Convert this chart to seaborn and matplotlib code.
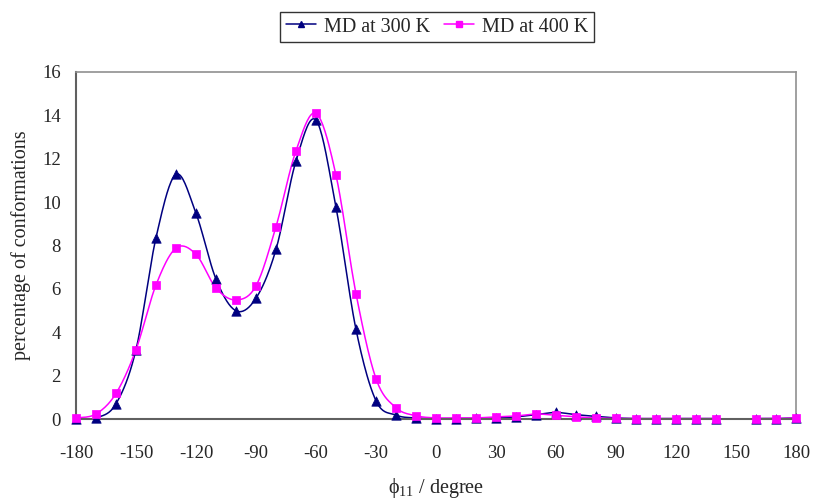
import numpy as np
import pandas as pd
import matplotlib
matplotlib.use("Agg")
import matplotlib.pyplot as plt
import seaborn as sns

# ---- data ----
angles = list(range(-180, 181, 10))
md_300 = [0.00, 0.05, 0.70, 3.20, 8.36, 11.28, 9.48, 6.45, 4.99, 5.57,
          7.82, 11.90, 13.78, 9.76, 4.13, 0.84, 0.18, 0.05, 0.02, 0.02,
          0.03, 0.05, 0.10, 0.20, 0.30, 0.20, 0.12, 0.05, 0.02, 0.02,
          0.02, 0.02, 0.02, np.nan, 0.02, 0.02, 0.05]
md_400 = [0.05, 0.23, 1.18, 3.20, 6.18, 7.88, 7.59, 6.04, 5.49, 6.14,
          8.87, 12.37, 14.09, 11.24, 5.78, 1.86, 0.52, 0.15, 0.05, 0.05,
          0.05, 0.10, 0.14, 0.23, 0.17, 0.10, 0.05, 0.03, 0.02, 0.02,
          0.02, 0.02, 0.02, np.nan, 0.02, 0.02, 0.05]
series_names = ["MD at 300 K", "MD at 400 K"]
series_colors = ["#000080", "#FF00FF"]
series_markers = ["^", "s"]
xticks = list(range(-180, 181, 30))
yticks = list(range(0, 17, 2))


def smooth(x, y, n=20):
    """Catmull-Rom style smoothing per contiguous segment (NaN breaks)."""
    x = np.asarray(x, float)
    y = np.asarray(y, float)
    xs, ys = [], []
    ok = ~np.isnan(y)
    idx = np.where(ok)[0]
    segs = np.split(idx, np.where(np.diff(idx) != 1)[0] + 1)
    for seg in segs:
        px, py = x[seg], y[seg]
        m = len(px)
        if m < 2:
            continue
        for i in range(m - 1):
            p0 = (px[i - 1], py[i - 1]) if i > 0 else (px[i], py[i])
            p1 = (px[i], py[i])
            p2 = (px[i + 1], py[i + 1])
            p3 = (px[i + 2], py[i + 2]) if i + 2 < m else (px[i + 1], py[i + 1])
            t = np.linspace(0, 1, n, endpoint=False)
            for a in range(2):
                c0, c1, c2, c3 = p0[a], p1[a], p2[a], p3[a]
                v = 0.5 * ((2 * c1) + (-c0 + c2) * t
                           + (2 * c0 - 5 * c1 + 4 * c2 - c3) * t ** 2
                           + (-c0 + 3 * c1 - 3 * c2 + c3) * t ** 3)
                (xs if a == 0 else ys).extend(v)
        xs.append(px[-1]); ys.append(py[-1])
        xs.append(np.nan); ys.append(np.nan)
    return np.array(xs), np.array(ys)


sns.set_style("white")
plt.rcParams["font.family"] = ["Liberation Serif", "DejaVu Serif"]
plt.rcParams["mathtext.fontset"] = "custom"
plt.rcParams["mathtext.rm"] = "Liberation Serif"

fig = plt.figure(figsize=(8.13, 5.04), dpi=100)
ax = fig.add_axes([76 / 813, 85 / 504, 720 / 813, 347 / 504])

for name, vals, col, mk in zip(series_names, [md_300, md_400], series_colors, series_markers):
    sx, sy = smooth(angles, vals)
    ax.plot(sx, sy, color=col, lw=1.1, zorder=2)
    df = pd.DataFrame({"angle": angles, "pct": vals}).dropna()
    sns.scatterplot(data=df, x="angle", y="pct", ax=ax, color=col, marker=mk,
                    s=38 if mk == "s" else 46, edgecolor=col, linewidth=0.5,
                    zorder=3, clip_on=False)

ax.set_xlim(-180, 180)
ax.set_ylim(0, 16)
ax.set_xticks(xticks)
ax.set_yticks(yticks)
ax.set_xticklabels([str(t) for t in xticks], fontsize=13.5)
ax.set_yticklabels([str(t) for t in yticks], fontsize=13.5)
ax.tick_params(axis="x", direction="out", length=5, width=1, color="#555555", pad=14)
ax.tick_params(axis="y", direction="out", length=5, width=1, color="#555555", pad=6)
ax.set_xlabel("ϕ$_{\\mathregular{11}}$ / degree", fontsize=14.5, labelpad=10)
ax.set_ylabel("percentage of conformations", fontsize=14.5, labelpad=8)

for s in ["left", "bottom"]:
    ax.spines[s].set_color("#606060")
    ax.spines[s].set_linewidth(1.5)
for s in ["top", "right"]:
    ax.spines[s].set_color("#909090")
    ax.spines[s].set_linewidth(1.2)

from matplotlib.lines import Line2D
handles = [Line2D([0], [0], color=c, marker=m, markersize=5, lw=1.1)
           for c, m in zip(series_colors, series_markers)]
leg = fig.legend(handles, series_names, loc="center", bbox_to_anchor=(437 / 813, 1 - 27 / 504),
                 ncol=2, frameon=True, fontsize=14.5, handlelength=1.5, handletextpad=0.4,
                 columnspacing=0.7, borderpad=0.25, fancybox=False)
leg.get_frame().set_edgecolor("black")
leg.get_frame().set_linewidth(1.0)

fig.savefig("out.png", dpi=100)
